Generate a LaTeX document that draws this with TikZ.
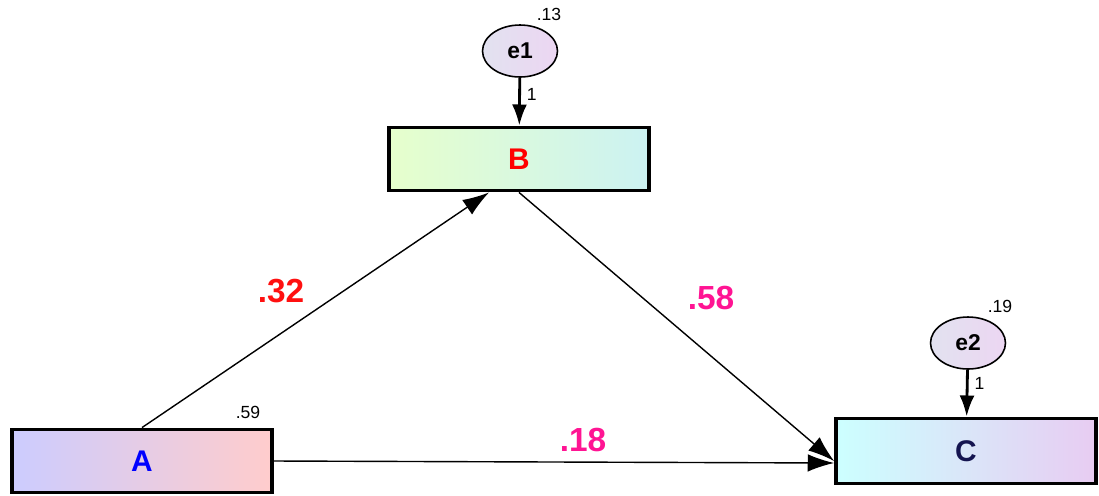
\documentclass[tikz,border=0pt]{standalone}
\usepackage{fontspec}
\setmainfont{Liberation Sans}
\usetikzlibrary{arrows.meta,positioning,shapes.geometric}

\definecolor{coefred}{HTML}{FF1010}
\definecolor{coefpink}{HTML}{FF1493}

\begin{document}
\begin{tikzpicture}[
		x=0.02cm, y=-0.02cm,
		var/.style={draw, line width=2.2pt, minimum width=5.2cm, minimum height=1.26cm, font=\bfseries\fontsize{17}{17}\selectfont},
		err/.style={draw, ellipse, line width=0.9pt, minimum width=1.5cm, minimum height=1.04cm, inner sep=0pt, font=\bfseries\fontsize{13}{13}\selectfont, left color={rgb,255:red,226;green,226;blue,240}, right color={rgb,255:red,236;green,214;blue,242}},
		coef/.style={font=\bfseries\fontsize{19}{19}\selectfont},
		small/.style={font=\fontsize{10}{10}\selectfont},
		path/.style={-{Latex[length=15pt,width=10pt]}, line width=0.8pt},
		fixed/.style={-{Latex[length=12pt,width=8.5pt]}, line width=1.6pt},
	]
		\useasboundingbox (0,0) rectangle (1099,495);

		\node[var, left color={rgb,255:red,204;green,204;blue,255}, right color={rgb,255:red,255;green,204;blue,204}, text=blue] (A) at (142,461) {A};
		\node[var, left color={rgb,255:red,230;green,255;blue,204}, right color={rgb,255:red,204;green,242;blue,242}, text=red] (B) at (519,159) {B};
		\node[var, minimum height=1.3cm, left color={rgb,255:red,204;green,255;blue,255}, right color={rgb,255:red,232;green,204;blue,242}, text={rgb,255:red,20;green,20;blue,80}] (C) at (966,451) {C};

		\node[err] (e1) at (520,51) {e1};
		\node[err] (e2) at (968,343) {e2};

		% variances
		\node[small] (ve1) at (549,14) {.13};
		\node[small] (ve2) at (1000,306) {.19};
		\node[small] (vA) at (248,412) {.59};

		% paths
		\draw[fixed] (e1) -- node[small, right, pos=0.35] (w1) {1} (B);
		\draw[fixed] (e2) -- node[small, right, pos=0.3] (w2) {1} (C);
		\draw[path] (A.north) -- ([xshift=-0.6cm]B.south);
		\draw[path] (B.south) -- ([yshift=-0.2cm]C.west);
		\draw[path] (A.east) -- ([yshift=-0.24cm]C.west);

		\node[coef, text=coefred] (cAB) at (281,291) {.32};
		\node[coef, text=coefpink] (cBC) at (711,298) {.58};
		\node[coef, text=coefpink] (cAC) at (583,440) {.18};
	\end{tikzpicture}
\end{document}
